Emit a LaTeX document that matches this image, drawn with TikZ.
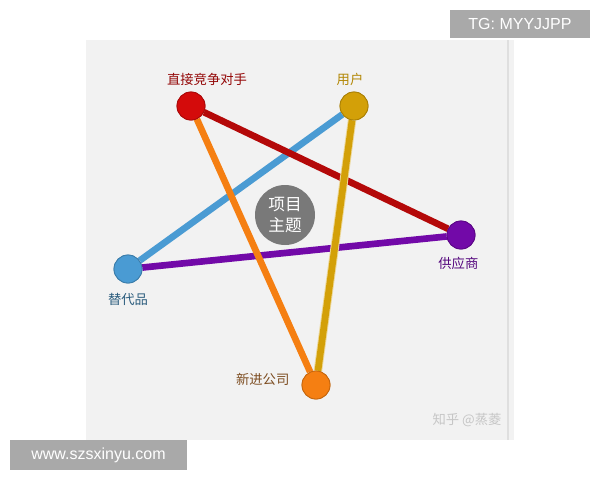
\documentclass[tikz,border=0pt]{standalone}
\usepackage{fontspec}
\setmainfont{Liberation Sans}
\newfontfamily\cjk{Noto Sans CJK SC}
\usetikzlibrary{positioning,calc}
\definecolor{rivalred}{HTML}{D40B0B}
\definecolor{usergold}{HTML}{D3A008}
\definecolor{supplypurple}{HTML}{7209A8}
\definecolor{substblue}{HTML}{4A9BD3}
\definecolor{newcorange}{HTML}{F57F12}
\definecolor{panelgray}{HTML}{F2F2F2}
\definecolor{tagbox}{HTML}{A9A9A9}

\begin{document}
\begin{tikzpicture}[x=0.75pt,y=-0.75pt,
    force/.style={circle, inner sep=0pt, minimum size=21pt, draw=#1!80!black, line width=0.6pt, fill=#1},
    link/.style={line width=5pt, #1},
    tag/.style={font=\cjk\fontsize{10}{12}\selectfont, inner sep=1pt}]
  \useasboundingbox (0,0) rectangle (600,480);
  \fill[white] (0,0) rectangle (600,480);
  \fill[panelgray] (86,40) rectangle (514,440);                 %panel
  \draw[gray!25, line width=1.2pt] (508,40) -- (508,440);       %scroll edge
  % the five forces
  \node[force=rivalred] (rival) at (191,106) {};
  \node[force=usergold] (user) at (354,106) {};
  \node[force=supplypurple] (supply) at (461,235) {};
  \node[force=substblue] (subst) at (128,269) {};
  \node[force=newcorange] (newc) at (316,385) {};
  % topic in the middle
  \node[circle, fill=gray!95!black, minimum size=45pt, inner sep=0pt, text=white,
        font=\cjk\fontsize{12.5}{16}\selectfont, align=center] (topic) at (285,215) {项目\\主题};
  % star lines
  \draw[link=substblue] (subst) -- (user);
  \draw[link=supplypurple] (subst) -- (supply);
  \draw[link=rivalred!85!black] (rival) -- (supply);
  \draw[link=newcorange] (rival) -- (newc);
  \draw[usergold!40, line width=6.4pt] (user) -- (newc);
  \draw[link=usergold] (user) -- (newc);
  % dots again on top of the lines
  \node[force=rivalred] at (rival) {};
  \node[force=usergold] at (user) {};
  \node[force=supplypurple] at (supply) {};
  \node[force=substblue] at (subst) {};
  \node[force=newcorange] at (newc) {};
  % labels
  \node[tag, text=rivalred!70!black, above=3pt of rival, xshift=12pt] (rivaltag) {直接竞争对手};
  \node[tag, text=usergold!85!black, above=3pt of user, xshift=-3pt] (usertag) {用户};
  \node[tag, text=supplypurple!75!black, below=5pt of supply, xshift=-2pt] (supplytag) {供应商};
  \node[tag, text=substblue!60!black, below=6pt of subst] (substtag) {替代品};
  \node[tag, text=newcorange!45!black!90, left=8pt of newc, yshift=4pt] (newctag) {新进公司};
  \node[tag, text=gray!45, font=\cjk\fontsize{10}{12}\selectfont] (mark) at (467,420) {知乎 @蒸菱};
  % corner tags
  \node[fill=tagbox, text=white, font=\fontsize{12}{14}\selectfont, minimum width=105pt, minimum height=21pt, inner sep=0pt] (tg) at (520,24) {TG: MYYJJPP};
  \node[fill=tagbox, text=white, font=\fontsize{12}{14}\selectfont, minimum width=133pt, minimum height=22pt, inner sep=0pt] (www) at (98.5,455) {www.szsxinyu.com};
\end{tikzpicture}
\end{document}
